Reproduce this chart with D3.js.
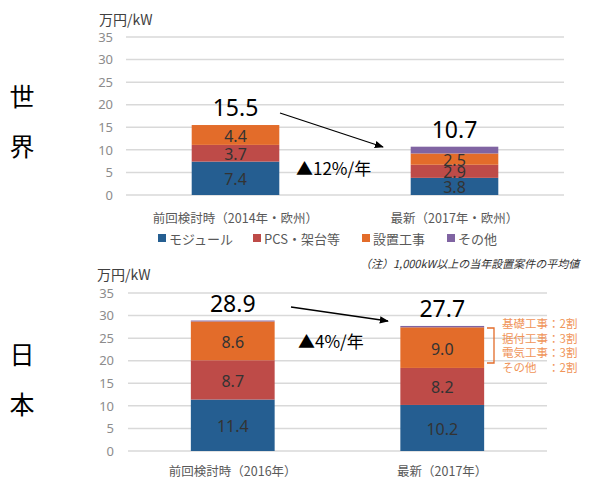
<!DOCTYPE html>
<html>
<head>
<meta charset="utf-8">
<script src="https://cdn.jsdelivr.net/npm/d3@7"></script>
<style>
  body { margin: 0; background: #fff; }
  svg { font-family: "Noto Sans CJK JP", "Noto Sans", sans-serif; }
</style>
</head>
<body>
<div id="chart"></div>
<script>
// Data
const series = ["モジュール", "PCS・架台等", "設置工事", "その他"];
const seriesColors = ["#255E91", "#BE4B48", "#E36C2A", "#8064A2"];
const yTicks = [0, 5, 10, 15, 20, 25, 30, 35];

const worldCategories = ["前回検討時（2014年・欧州）", "最新（2017年・欧州）"];
const worldModule = [7.4, 3.8];
const worldPcs = [3.7, 2.9];
const worldInstall = [4.4, 2.5];
const worldOther = [0, 1.5];
const worldTotal = [15.5, 10.7];
const worldChange = "▲12%/年";

const japanCategories = ["前回検討時（2016年）", "最新（2017年）"];
const japanModule = [11.4, 10.2];
const japanPcs = [8.7, 8.2];
const japanInstall = [8.6, 9.0];
const japanOther = [0.2, 0.3];
const japanTotal = [28.9, 27.7];
const japanChange = "▲4%/年";

const installBreakdown = ["基礎工事：2割", "据付工事：3割", "電気工事：3割", "その他　：2割"];
const note = "（注）1,000kW以上の当年設置案件の平均値";

const svg = d3.select("#chart")
  .append("svg")
  .attr("width", 593)
  .attr("height", 479);

svg.append("defs").append("marker")
  .attr("id", "arrow")
  .attr("viewBox", "0 0 10 10")
  .attr("refX", 9).attr("refY", 5)
  .attr("markerWidth", 7).attr("markerHeight", 7)
  .attr("orient", "auto")
  .append("path")
  .attr("d", "M0,1L10,5L0,9Z")
  .attr("fill", "#000");

function drawPanel(opt) {
  const { cats, values, totals, x0, x1, yZero, yTop, tickX, unitX, unitY, catDy } = opt;
  const x = d3.scaleBand().domain(cats).range([x0, x1]).paddingInner(0.6).paddingOuter(0.3);
  const y = d3.scaleLinear().domain([0, 35]).range([yZero, yTop]);

  // Gridlines
  svg.append("g").selectAll("line")
    .data(yTicks)
    .enter().append("line")
    .attr("x1", x0).attr("x2", x1)
    .attr("y1", d => y(d)).attr("y2", d => y(d))
    .attr("stroke", "#d9d9d9")
    .attr("stroke-width", 1.5);

  // Y axis labels
  const yAxis = svg.append("g")
    .attr("transform", `translate(${tickX},0)`)
    .call(d3.axisLeft(y).tickValues(yTicks).tickSize(0).tickPadding(0));
  yAxis.select(".domain").remove();
  yAxis.selectAll("text")
    .attr("fill", "#8c8c8c")
    .style("font-size", "13px")
    .style("font-family", "'Noto Sans', sans-serif");

  // Unit label
  svg.append("text")
    .attr("x", unitX).attr("y", unitY)
    .attr("dominant-baseline", "central")
    .style("font-size", "14px")
    .attr("fill", "#404040")
    .text("万円/kW");

  // Stacked bars
  const rows = cats.map((c, i) => values.map(v => v[i]));
  const stackData = d3.stack().keys(d3.range(series.length))(rows);
  stackData.forEach((layer, si) => {
    svg.append("g").selectAll("rect")
      .data(layer)
      .enter().append("rect")
      .attr("x", (d, i) => x(cats[i]))
      .attr("width", x.bandwidth())
      .attr("y", d => y(d[1]))
      .attr("height", d => y(d[0]) - y(d[1]))
      .attr("fill", seriesColors[si]);
    if (si < 3) {
      svg.append("g").selectAll("text")
        .data(layer)
        .enter().append("text")
        .attr("x", (d, i) => x(cats[i]) + x.bandwidth() / 2)
        .attr("y", d => (y(d[0]) + y(d[1])) / 2 + 1)
        .attr("text-anchor", "middle")
        .attr("dominant-baseline", "central")
        .style("font-size", "16px")
        .style("font-family", "'Noto Sans', sans-serif")
        .attr("fill", "#333")
        .text(d => (d[1] - d[0]).toFixed(1));
    }
  });

  // Totals
  svg.append("g").selectAll("text")
    .data(totals)
    .enter().append("text")
    .attr("x", (d, i) => x(cats[i]) + x.bandwidth() / 2)
    .attr("y", d => y(d) - 9)
    .attr("text-anchor", "middle")
    .style("font-size", "23px")
    .style("font-family", "'Noto Sans', sans-serif")
    .attr("fill", "#000")
    .text(d => d.toFixed(1));

  // Category labels
  svg.append("g").selectAll("text")
    .data(cats)
    .enter().append("text")
    .attr("x", d => x(d) + x.bandwidth() / 2)
    .attr("y", yZero + catDy)
    .attr("text-anchor", "middle")
    .attr("dominant-baseline", "central")
    .style("font-size", "12.5px")
    .attr("fill", "#595959")
    .text(d => d);
}

// World panel
drawPanel({
  cats: worldCategories,
  values: [worldModule, worldPcs, worldInstall, worldOther],
  totals: worldTotal,
  x0: 126, x1: 564, yZero: 195, yTop: 37, tickX: 113, unitX: 99, unitY: 19, catDy: 22
});

// Japan panel
drawPanel({
  cats: japanCategories,
  values: [japanModule, japanPcs, japanInstall, japanOther],
  totals: japanTotal,
  x0: 128, x1: 547, yZero: 451, yTop: 293, tickX: 114, unitX: 97, unitY: 274, catDy: 19
});

// Region labels
[["世", 95], ["界", 145], ["日", 353], ["本", 403]].forEach(([t, yy]) => {
  svg.append("text")
    .attr("x", 22).attr("y", yy)
    .attr("text-anchor", "middle")
    .attr("dominant-baseline", "central")
    .style("font-size", "25px")
    .attr("fill", "#000")
    .text(t);
});

// Trend arrows
svg.append("line")
  .attr("x1", 280).attr("y1", 113).attr("x2", 383).attr("y2", 147)
  .attr("stroke", "#000").attr("stroke-width", 1.3)
  .attr("marker-end", "url(#arrow)");
svg.append("text")
  .attr("x", 296).attr("y", 167)
  .attr("dominant-baseline", "central")
  .style("font-size", "17px")
  .attr("fill", "#000")
  .text(worldChange);

svg.append("line")
  .attr("x1", 291).attr("y1", 307).attr("x2", 388).attr("y2", 321)
  .attr("stroke", "#000").attr("stroke-width", 1.3)
  .attr("marker-end", "url(#arrow)");
svg.append("text")
  .attr("x", 298).attr("y", 340)
  .attr("dominant-baseline", "central")
  .style("font-size", "17px")
  .attr("fill", "#000")
  .text(japanChange);

// Legend
const legendX = [158, 253, 362, 447];
const legend = svg.append("g").selectAll("g")
  .data(series)
  .enter().append("g")
  .attr("transform", (d, i) => `translate(${legendX[i]},238)`);
legend.append("rect")
  .attr("x", 0).attr("y", -4).attr("width", 8).attr("height", 8)
  .attr("fill", (d, i) => seriesColors[i]);
legend.append("text")
  .attr("x", 11).attr("y", 0)
  .attr("dominant-baseline", "central")
  .style("font-size", "13px")
  .attr("fill", "#595959")
  .text(d => d);

// Note
svg.append("text")
  .attr("x", 360).attr("y", 263)
  .attr("dominant-baseline", "central")
  .style("font-size", "11px")
  .style("font-style", "italic")
  .attr("fill", "#333")
  .text(note);

// Installation breakdown
svg.append("path")
  .attr("d", "M487,328H494V363H487")
  .attr("fill", "none")
  .attr("stroke", "#E36C2A")
  .attr("stroke-width", 1.3);
svg.append("g").selectAll("text")
  .data(installBreakdown)
  .enter().append("text")
  .attr("x", 502)
  .attr("y", (d, i) => 323 + i * 14.5)
  .attr("dominant-baseline", "central")
  .style("font-size", "11.5px")
  .attr("fill", "#F0955A")
  .text(d => d);
</script>
</body>
</html>
